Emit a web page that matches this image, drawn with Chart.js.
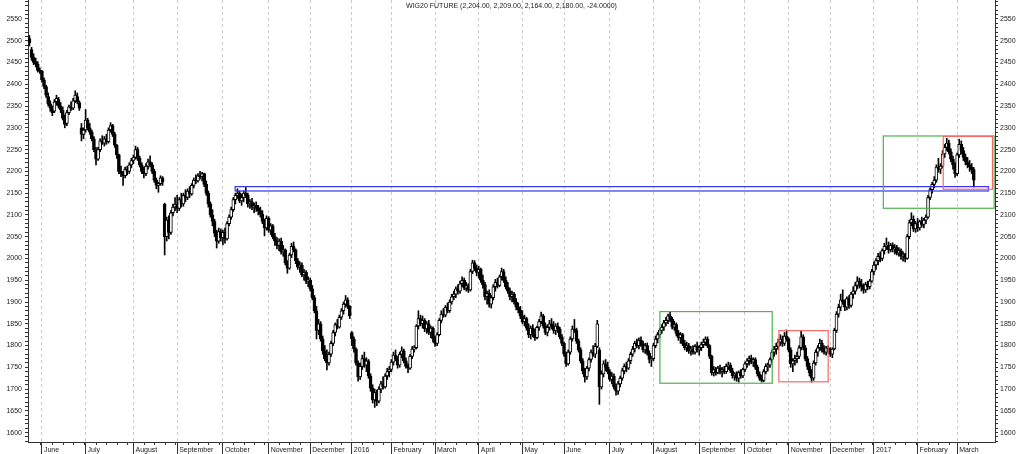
<!DOCTYPE html>
<html>
<head>
<meta charset="utf-8">
<title>WIG20 FUTURE</title>
<script src="https://cdn.jsdelivr.net/npm/chart.js@4.4.1/dist/chart.umd.min.js"></script>
<style>
  html, body { margin: 0; padding: 0; background: #fff; }
  #wrap { width: 1024px; height: 454px; position: relative; }
</style>
</head>
<body>
<div id="wrap"><canvas id="chart"></canvas></div>
<script>
const titleText = 'WIG20 FUTURE (2,204.00, 2,209.00, 2,164.00, 2,180.00, -24.0000)';

// daily bars, [open, high, low, close], one array per month
const may15 = [[2505,2512,2488,2495],[2480,2485,2455,2462],[2462,2470,2445,2450],[2452,2460,2440,2446],[2446,2452,2428,2432],[2432,2438,2425,2430]];
const jun15 = [[2430,2432,2405,2410],[2410,2415,2390,2395],[2395,2398,2370,2375],[2372,2380,2350,2355],[2355,2362,2338,2345],
  [2345,2350,2328,2335],[2338,2365,2335,2360],[2360,2375,2352,2368],[2365,2370,2345,2350],[2350,2358,2335,2342],
  [2340,2348,2318,2322],[2322,2330,2300,2308],[2310,2340,2305,2335],[2335,2352,2330,2348],[2348,2360,2340,2345],
  [2345,2368,2342,2362],[2362,2385,2358,2375],[2372,2380,2355,2360],[2358,2362,2340,2345],[2300,2310,2270,2285],
  [2285,2300,2275,2295]];
const jul15 = [[2295,2342,2290,2318],[2318,2322,2295,2300],[2300,2310,2285,2290],[2290,2295,2270,2275],[2275,2280,2245,2250],
  [2248,2255,2215,2228],[2228,2255,2225,2250],[2250,2275,2245,2270],[2270,2282,2262,2265],[2265,2280,2258,2275],
  [2275,2285,2262,2268],[2268,2300,2265,2295],[2295,2312,2290,2305],[2305,2308,2280,2285],[2285,2290,2255,2260],
  [2260,2262,2230,2238],[2238,2240,2195,2200],[2200,2212,2188,2195],[2195,2200,2168,2190],[2190,2210,2185,2205],
  [2205,2212,2192,2200],[2200,2220,2195,2215],[2215,2230,2208,2225]];
const aug15 = [[2225,2238,2218,2232],[2232,2258,2228,2250],[2250,2255,2225,2230],[2230,2235,2210,2215],[2215,2220,2195,2200],
  [2200,2210,2185,2195],[2195,2218,2190,2212],[2212,2228,2205,2222],[2222,2236,2210,2215],[2215,2220,2195,2200],
  [2200,2205,2175,2180],[2180,2185,2160,2168],[2168,2175,2152,2172],[2172,2190,2168,2185],[2185,2188,2168,2175],
  [2125,2127,2008,2050],[2050,2095,2040,2088],[2088,2098,2045,2060],[2060,2110,2055,2105],[2105,2125,2098,2118],
  [2118,2140,2110,2125]];
const sep15 = [[2125,2145,2105,2115],[2115,2140,2110,2135],[2135,2150,2118,2125],[2125,2150,2120,2145],[2145,2158,2130,2140],
  [2140,2160,2135,2155],[2155,2165,2140,2148],[2148,2172,2145,2168],[2168,2185,2162,2180],[2180,2192,2172,2178],
  [2178,2195,2175,2190],[2190,2200,2182,2188],[2188,2198,2178,2195],[2195,2196,2165,2170],[2170,2178,2145,2150],
  [2150,2155,2118,2125],[2125,2130,2095,2100],[2100,2112,2075,2085],[2085,2090,2050,2058],[2058,2065,2024,2040],
  [2040,2070,2035,2062],[2062,2068,2040,2048]];
const oct15 = [[2048,2065,2031,2060],[2060,2070,2035,2045],[2045,2085,2042,2080],[2080,2100,2075,2095],[2095,2118,2090,2112],
  [2112,2140,2108,2135],[2135,2150,2125,2145],[2145,2160,2138,2150],[2150,2155,2128,2132],[2132,2148,2122,2140],
  [2140,2155,2130,2150],[2150,2163,2140,2145],[2145,2150,2118,2125],[2125,2135,2115,2130],[2130,2138,2112,2118],
  [2118,2128,2105,2122],[2122,2130,2108,2115],[2115,2122,2100,2110],[2110,2118,2095,2102],[2102,2110,2080,2085],
  [2085,2090,2052,2070],[2070,2098,2065,2092]];
const nov15 = [[2092,2096,2060,2065],[2065,2080,2055,2075],[2075,2078,2045,2050],[2050,2058,2030,2040],[2040,2048,2022,2030],
  [2030,2045,2018,2040],[2040,2047,2010,2015],[2015,2030,2005,2020],[2020,2022,1985,1990],[1990,1995,1966,1978],
  [1978,2012,1975,2008],[2008,2035,2002,2028],[2028,2038,2015,2020],[2020,2022,1988,1995],[1995,2000,1975,1980],
  [1980,1992,1968,1985],[1985,1990,1958,1962],[1962,1975,1950,1968],[1968,1972,1942,1948],[1948,1958,1935,1950]];
const dec15 = [[1950,1955,1925,1930],[1930,1938,1905,1910],[1910,1915,1875,1880],[1880,1890,1815,1835],[1835,1860,1825,1850],
  [1850,1855,1810,1815],[1815,1822,1780,1788],[1788,1800,1765,1770],[1770,1790,1744,1760],[1760,1785,1755,1780],
  [1780,1810,1775,1805],[1805,1835,1800,1830],[1830,1852,1822,1848],[1848,1860,1838,1842],[1842,1870,1840,1865],
  [1865,1885,1860,1880],[1880,1900,1872,1895],[1895,1915,1888,1905],[1905,1910,1885,1890],[1890,1892,1862,1868]];
const jan16 = [[1830,1832,1800,1815],[1815,1820,1785,1792],[1792,1795,1755,1760],[1760,1765,1718,1728],[1728,1760,1722,1752],
  [1752,1778,1745,1770],[1770,1785,1750,1755],[1755,1772,1740,1765],[1765,1768,1725,1730],[1730,1735,1695,1702],
  [1702,1710,1668,1675],[1675,1700,1658,1692],[1692,1698,1662,1672],[1672,1705,1668,1700],[1700,1718,1692,1712],
  [1712,1728,1700,1705],[1705,1735,1702,1730],[1730,1748,1722,1740],[1740,1752,1728,1745]];
const feb16 = [[1745,1768,1740,1762],[1762,1785,1755,1778],[1778,1790,1765,1770],[1770,1775,1748,1755],[1755,1785,1750,1780],
  [1780,1797,1772,1788],[1788,1792,1760,1765],[1765,1772,1748,1752],[1752,1758,1738,1748],[1748,1780,1745,1775],
  [1775,1798,1770,1792],[1792,1800,1785,1795],[1795,1848,1792,1845],[1845,1880,1838,1862],[1862,1870,1845,1850],
  [1850,1868,1840,1858],[1858,1862,1832,1838],[1838,1855,1828,1850],[1850,1858,1825,1830],[1830,1845,1818,1840],
  [1840,1843,1808,1815]];
const mar16 = [[1815,1822,1798,1805],[1805,1830,1800,1825],[1825,1862,1822,1858],[1858,1880,1852,1872],[1872,1885,1865,1870],
  [1870,1892,1866,1888],[1888,1898,1875,1880],[1880,1905,1876,1900],[1900,1918,1895,1912],[1912,1925,1905,1918],
  [1918,1935,1910,1930],[1930,1940,1918,1925],[1925,1948,1920,1942],[1942,1958,1935,1950],[1950,1955,1928,1932],
  [1932,1945,1925,1938],[1938,1942,1922,1928],[1928,1975,1925,1970],[1970,1996,1965,1990],[1990,1995,1972,1978],
  [1978,1985,1960,1968]];
const apr16 = [[1968,1982,1955,1975],[1975,1978,1945,1950],[1950,1962,1932,1940],[1940,1945,1905,1912],[1912,1925,1895,1920],
  [1920,1928,1888,1895],[1895,1915,1886,1910],[1910,1940,1905,1935],[1935,1952,1925,1945],[1945,1955,1932,1938],
  [1938,1962,1935,1958],[1958,1978,1950,1970],[1970,1975,1945,1950],[1950,1958,1930,1935],[1935,1945,1920,1925],
  [1925,1932,1905,1912],[1912,1925,1900,1918],[1918,1922,1895,1900],[1900,1908,1882,1888],[1888,1898,1875,1882],
  [1882,1890,1862,1868]];
const may16 = [[1868,1880,1850,1855],[1855,1870,1845,1862],[1862,1865,1835,1840],[1840,1850,1818,1825],[1825,1845,1815,1840],
  [1840,1848,1820,1828],[1828,1838,1812,1818],[1818,1845,1815,1842],[1842,1860,1835,1855],[1855,1877,1850,1868],
  [1868,1872,1840,1845],[1845,1852,1825,1830],[1830,1848,1822,1842],[1842,1858,1835,1850],[1850,1862,1838,1845],
  [1845,1855,1828,1835],[1835,1850,1825,1845],[1845,1852,1830,1838],[1838,1842,1815,1820],[1820,1825,1800,1805]];
const jun16 = [[1805,1808,1775,1780],[1780,1785,1752,1758],[1758,1790,1755,1785],[1785,1820,1780,1815],[1815,1845,1810,1838],
  [1838,1860,1830,1835],[1835,1840,1805,1810],[1810,1815,1785,1790],[1790,1795,1760,1765],[1765,1770,1735,1742],
  [1742,1748,1716,1728],[1728,1752,1722,1748],[1748,1772,1742,1768],[1768,1790,1762,1785],[1785,1800,1775,1780],
  [1780,1805,1772,1798],[1798,1858,1795,1850],[1790,1795,1665,1705],[1705,1742,1700,1735],[1735,1765,1728,1758],
  [1758,1768,1742,1750],[1750,1762,1735,1740]];
const jul16 = [[1740,1745,1718,1722],[1722,1738,1712,1730],[1730,1735,1700,1705],[1705,1712,1686,1695],[1695,1718,1688,1712],
  [1712,1730,1705,1725],[1725,1748,1720,1742],[1742,1758,1735,1752],[1752,1762,1740,1748],[1748,1770,1745,1765],
  [1765,1785,1758,1780],[1780,1798,1775,1792],[1792,1810,1785,1805],[1805,1815,1795,1800],[1800,1818,1792,1812],
  [1812,1820,1798,1802],[1802,1810,1785,1790],[1790,1805,1782,1800],[1800,1806,1778,1782],[1782,1788,1760,1768],
  [1768,1775,1752,1770]];
const aug16 = [[1770,1805,1765,1800],[1800,1822,1795,1815],[1815,1830,1806,1825],[1825,1840,1818,1835],[1835,1848,1828,1842],
  [1842,1858,1835,1852],[1852,1865,1845,1858],[1858,1872,1850,1868],[1868,1878,1855,1860],[1860,1865,1838,1842],
  [1842,1856,1835,1848],[1848,1852,1822,1828],[1828,1835,1812,1818],[1818,1830,1805,1825],[1825,1828,1800,1805],
  [1805,1812,1790,1795],[1795,1808,1786,1800],[1800,1805,1782,1788],[1788,1798,1778,1792],[1792,1800,1780,1785],
  [1785,1802,1780,1798],[1798,1808,1785,1790]];
const sep16 = [[1790,1800,1778,1795],[1795,1808,1788,1802],[1802,1815,1795,1808],[1808,1820,1800,1815],[1815,1820,1795,1800],
  [1800,1802,1770,1775],[1775,1778,1732,1738],[1738,1752,1730,1745],[1745,1750,1732,1738],[1738,1752,1735,1748],
  [1748,1755,1735,1740],[1740,1750,1728,1745],[1745,1752,1735,1740],[1740,1758,1736,1752],[1752,1762,1745,1755],
  [1755,1760,1738,1742],[1742,1748,1725,1730],[1730,1738,1720,1735],[1735,1740,1718,1725],[1725,1742,1716,1738],
  [1738,1745,1725,1730],[1730,1748,1726,1745]];
const oct16 = [[1745,1762,1740,1758],[1758,1770,1750,1765],[1765,1776,1755,1770],[1770,1778,1758,1762],[1762,1772,1752,1768],
  [1768,1772,1745,1750],[1750,1755,1730,1735],[1735,1740,1720,1725],[1725,1732,1716,1720],[1720,1745,1717,1740],
  [1740,1758,1735,1752],[1752,1760,1742,1755],[1755,1772,1750,1768],[1768,1790,1762,1785],[1785,1798,1775,1792],
  [1792,1805,1780,1798],[1798,1815,1790,1808],[1808,1825,1800,1815],[1815,1822,1798,1805],[1805,1830,1800,1822],
  [1822,1836,1810,1815]];
const nov16 = [[1815,1818,1785,1790],[1790,1795,1750,1758],[1758,1770,1740,1765],[1765,1778,1755,1770],[1770,1785,1760,1775],
  [1775,1800,1770,1795],[1795,1834,1790,1820],[1820,1825,1790,1795],[1795,1800,1765,1770],[1770,1775,1745,1752],
  [1752,1760,1730,1738],[1738,1745,1716,1725],[1725,1765,1720,1760],[1760,1790,1755,1785],[1785,1800,1775,1795],
  [1795,1815,1788,1805],[1805,1812,1785,1790],[1790,1800,1780,1785],[1785,1798,1778,1795],[1795,1800,1782,1788]];
const dec16 = [[1788,1795,1775,1780],[1780,1795,1772,1792],[1792,1840,1790,1835],[1835,1878,1830,1872],[1872,1895,1865,1888],
  [1888,1918,1880,1905],[1905,1928,1895,1900],[1900,1905,1880,1888],[1888,1912,1882,1908],[1908,1915,1885,1892],
  [1892,1922,1888,1918],[1918,1935,1908,1925],[1925,1945,1918,1938],[1938,1958,1930,1948],[1948,1955,1932,1940],
  [1940,1952,1925,1935],[1935,1942,1920,1928],[1928,1945,1922,1940],[1940,1948,1928,1935],[1935,1952,1930,1948],
  [1948,1975,1945,1970]];
const jan17 = [[1970,1992,1962,1985],[1985,2000,1975,1995],[1995,2012,1985,2005],[2005,2015,1992,2000],[2000,2022,1995,2018],
  [2018,2035,2010,2028],[2028,2047,2020,2030],[2030,2038,2012,2020],[2020,2035,2015,2030],[2030,2036,2015,2022],
  [2022,2032,2010,2025],[2025,2030,2008,2012],[2012,2025,2005,2018],[2018,2022,1998,2005],[2005,2015,1994,2010],
  [2010,2012,1992,2000],[2000,2055,1998,2050],[2050,2088,2045,2082],[2082,2105,2075,2090],[2090,2098,2062,2068],
  [2068,2085,2060,2080]];
const feb17 = [[2080,2092,2062,2070],[2070,2088,2065,2085],[2085,2095,2072,2078],[2078,2092,2070,2088],[2088,2100,2080,2095],
  [2095,2145,2092,2140],[2140,2162,2135,2158],[2158,2175,2150,2170],[2170,2188,2162,2180],[2180,2215,2175,2210],
  [2210,2230,2198,2205],[2205,2218,2195,2212],[2212,2248,2208,2240],[2240,2262,2232,2255],[2255,2276,2248,2265],
  [2265,2272,2240,2245],[2245,2252,2222,2228],[2228,2235,2205,2215],[2215,2220,2186,2195]];
const mar17 = [[2195,2242,2190,2238],[2238,2274,2232,2262],[2262,2270,2240,2248],[2248,2255,2225,2232],[2232,2240,2215,2222],
  [2222,2232,2208,2215],[2215,2225,2200,2210],[2210,2218,2195,2204],[2204,2209,2164,2180]];

const months = [may15, jun15, jul15, aug15, sep15, oct15, nov15, dec15, jan16, feb16, mar16, apr16,
  may16, jun16, jul16, aug16, sep16, oct16, nov16, dec16, jan17, feb17, mar17];
// labels for the month gridlines, June 2015 onwards
const monthLabels = ['June', 'July', 'August', 'September', 'October', 'November', 'December', '2016',
  'February', 'March', 'April', 'May', 'June', 'July', 'August', 'September', 'October', 'November',
  'December', '2017', 'February', 'March'];

// drawn zones, in bar index and price
const zoneFrom = [98.9, 303.1, 360.3, 410.5, 439.3];
const zoneTo = [461, 357.1, 384, 463.8, 463];
const zoneLow = [2155, 1713.5, 1716.7, 2115.3, 2159];
const zoneHigh = [2165, 1878, 1834.3, 2281.3, 2280.3];
const zoneKind = ['level', 'range', 'top', 'range', 'top'];

const bars = months.flat();
const monthStarts = [];
let pos = 0;
months.forEach((m, i) => { if (i > 0) monthStarts.push(pos); pos += m.length; });

const FONT = '"Liberation Sans", Arial, sans-serif';
Chart.defaults.font.family = FONT;
Chart.defaults.font.size = 7;
Chart.defaults.color = '#222';

const zoneColors = { level: '#3434f0', range: '#4fb14f', top: '#f46a6a' };

const extras = {
  id: 'extras',
  beforeDraw(chart) {
    const c = chart.ctx;
    c.save();
    c.fillStyle = '#fff';
    c.fillRect(0, 0, chart.width, chart.height);
    c.restore();
  },
  afterDatasetsDraw(chart) {
    const { ctx, scales: { x, y } } = chart;
    ctx.save();
    ctx.lineWidth = 1.2;
    zoneFrom.forEach((f, i) => {
      const x0 = x.getPixelForValue(f), x1 = x.getPixelForValue(zoneTo[i]);
      const y0 = y.getPixelForValue(zoneHigh[i]), y1 = y.getPixelForValue(zoneLow[i]);
      ctx.strokeStyle = zoneColors[zoneKind[i]];
      ctx.strokeRect(x0, y0, x1 - x0, y1 - y0);
    });
    ctx.restore();
  },
  afterDraw(chart) {
    const { ctx, chartArea, scales: { x } } = chart;
    ctx.save();
    // weekly minor ticks under the x axis
    ctx.strokeStyle = '#333';
    ctx.lineWidth = 1;
    let start = 0;
    months.forEach(m => {
      for (let k = start + 5; k < start + m.length; k += 5) {
        const px = Math.round(x.getPixelForValue(k)) + 0.5;
        ctx.beginPath();
        ctx.moveTo(px, chartArea.bottom);
        ctx.lineTo(px, chartArea.bottom + 3);
        ctx.stroke();
      }
      start += m.length;
    });
    ctx.fillStyle = '#222';
    ctx.font = '7px ' + FONT;
    ctx.textAlign = 'center';
    ctx.textBaseline = 'middle';
    ctx.fillText(titleText, (chartArea.left + chartArea.right) / 2, 6);
    ctx.restore();
  }
};

const yMin = 1578.5, yMax = 2593.6;

function yAxis(position, width, pad) {
  return {
    type: 'linear',
    position,
    min: yMin,
    max: yMax,
    afterFit: s => { s.width = width; s.paddingTop = 0; s.paddingBottom = 0; },
    ticks: {
      stepSize: 10,
      includeBounds: false,
      autoSkip: false,
      padding: pad,
      color: '#222',
      callback: v => (v % 50 === 0 ? String(v) : '')
    },
    grid: { drawOnChartArea: false, color: '#333', tickLength: 3 },
    border: { color: '#333' }
  };
}

new Chart(document.getElementById('chart'), {
  type: 'bar',
  data: {
    datasets: [
      {
        label: 'body',
        data: bars.map((b, i) => ({ x: i, y: [b[0], b[3]] })),
        backgroundColor: ctx => {
          const b = bars[ctx.dataIndex];
          return b && b[3] > b[0] ? '#fff' : '#000';
        },
        borderColor: '#000',
        borderWidth: 1,
        borderSkipped: false,
        barThickness: 3,
        grouped: false
      },
      {
        label: 'range',
        data: bars.map((b, i) => ({ x: i, y: [b[2], b[1]] })),
        backgroundColor: '#000',
        borderWidth: 0,
        barThickness: 1,
        grouped: false
      }
    ]
  },
  options: {
    responsive: true,
    maintainAspectRatio: false,
    animation: false,
    layout: { padding: 0 },
    plugins: { legend: { display: false }, tooltip: { enabled: false } },
    scales: {
      x: {
        type: 'linear',
        min: -0.7,
        max: 464.2,
        offset: false,
        afterBuildTicks: s => { s.ticks = monthStarts.map(v => ({ value: v })); },
        afterFit: s => { s.height = 12; s.paddingLeft = 0; s.paddingRight = 0; },
        ticks: {
          autoSkip: false,
          maxRotation: 0,
          minRotation: 0,
          align: 'start',
          labelOffset: 2,
          padding: -8,
          color: '#222',
          callback: (v, i) => monthLabels[i]
        },
        grid: { color: '#c8c8c8', offset: false, tickColor: '#333', tickLength: 12, tickBorderDash: [] },
        border: { color: '#333', dash: [3, 3] }
      },
      y: yAxis('left', 28, 3),
      y2: yAxis('right', 29, 2)
    }
  },
  plugins: [extras]
});
</script>
</body>
</html>
